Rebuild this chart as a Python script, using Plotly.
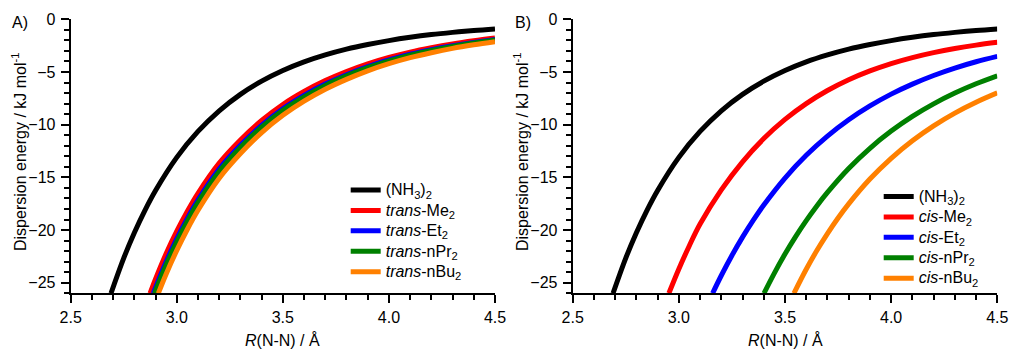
import plotly.graph_objects as go

# ---------------- data ----------------
# (NH3)2 reference curve, identical in both panels
R_nh3 = [2.69, 2.75, 2.80, 2.85, 2.90, 3.00, 3.10, 3.20, 3.30, 3.40, 3.50, 3.60, 3.70, 3.80, 3.90, 4.00, 4.10, 4.20, 4.30, 4.40, 4.50]
E_nh3 = [-26.0, -22.66, -20.25, -18.12, -16.24, -13.10, -10.64, -8.68, -7.12, -5.87, -4.86, -4.04, -3.38, -2.83, -2.39, -2.02, -1.71, -1.45, -1.24, -1.06, -0.91]

GRID = [3.1, 3.2, 3.3, 3.4, 3.5, 3.6, 3.7, 3.8, 3.9, 4.0, 4.1, 4.2, 4.3, 4.4, 4.5]

# panel A (trans)
R_trans_me = [2.874, 2.90, 2.95, 3.00, 3.05] + GRID
E_trans_me = [-26.0, -24.63, -22.23, -20.11, -18.21, -16.51, -13.65, -11.45, -9.60, -8.08, -6.85, -5.82, -4.96, -4.23, -3.62, -3.11, -2.69, -2.33, -2.03, -1.77]
R_trans_et = [2.889, 2.95, 3.00, 3.05] + GRID
E_trans_et = [-26.0, -23.00, -20.84, -18.89, -17.16, -14.22, -11.96, -10.06, -8.49, -7.22, -6.15, -5.26, -4.49, -3.86, -3.32, -2.88, -2.50, -2.19, -1.91]
R_trans_pr = [2.895, 2.95, 3.00, 3.05] + GRID
E_trans_pr = [-26.0, -23.29, -21.11, -19.15, -17.40, -14.44, -12.16, -10.23, -8.64, -7.36, -6.27, -5.37, -4.59, -3.95, -3.40, -2.95, -2.57, -2.25, -1.96]
R_trans_bu = [2.913, 2.95, 3.00, 3.05] + GRID
E_trans_bu = [-26.0, -24.16, -21.93, -19.92, -18.12, -15.08, -12.74, -10.75, -9.11, -7.77, -6.64, -5.70, -4.89, -4.21, -3.64, -3.17, -2.76, -2.42, -2.12]

# panel B (cis)
R_cis_me = [2.953, 3.00, 3.05] + GRID
E_cis_me = [-26.0, -23.69, -21.46, -19.43, -16.19, -13.52, -11.32, -9.50, -8.00, -6.76, -5.74, -4.90, -4.20, -3.63, -3.16, -2.77, -2.45, -2.18]
R_cis_et = [3.159, 3.20, 3.25, 3.30, 3.35, 3.40, 3.50, 3.60, 3.70, 3.80, 3.90, 4.00, 4.10, 4.20, 4.30, 4.40, 4.50]
E_cis_et = [-26.0, -24.31, -22.41, -20.67, -19.08, -17.62, -15.06, -12.90, -11.08, -9.53, -8.22, -7.10, -6.15, -5.33, -4.63, -4.03, -3.52]
R_cis_pr = [3.401, 3.45, 3.50, 3.55, 3.60, 3.65, 3.70, 3.80, 3.90, 4.00, 4.10, 4.20, 4.30, 4.40, 4.50]
E_cis_pr = [-26.0, -24.08, -22.27, -20.62, -19.10, -17.71, -16.43, -14.16, -12.24, -10.61, -9.21, -8.02, -7.00, -6.12, -5.36]
R_cis_bu = [3.542, 3.60, 3.65, 3.70, 3.75, 3.80, 3.90, 4.00, 4.10, 4.20, 4.30, 4.40, 4.50]
E_cis_bu = [-26.0, -23.72, -21.94, -20.33, -18.85, -17.51, -15.16, -13.19, -11.52, -10.11, -8.90, -7.87, -6.98]

names_A = ["(NH<sub>3</sub>)<sub>2</sub>", "<i>trans</i>-Me<sub>2</sub>", "<i>trans</i>-Et<sub>2</sub>",
           "<i>trans</i>-nPr<sub>2</sub>", "<i>trans</i>-nBu<sub>2</sub>"]
names_B = ["(NH<sub>3</sub>)<sub>2</sub>", "<i>cis</i>-Me<sub>2</sub>", "<i>cis</i>-Et<sub>2</sub>",
           "<i>cis</i>-nPr<sub>2</sub>", "<i>cis</i>-nBu<sub>2</sub>"]
colors = ["#000000", "#ff0000", "#0000ff", "#008000", "#ff8000"]

x_ticks = [2.5, 3.0, 3.5, 4.0, 4.5]
y_ticks = [0, -5, -10, -15, -20, -25]

FONT = "Liberation Sans, Arial, Helvetica, sans-serif"
W, H = 1010, 349

series_A = [(R_nh3, E_nh3), (R_trans_me, E_trans_me), (R_trans_et, E_trans_et),
            (R_trans_pr, E_trans_pr), (R_trans_bu, E_trans_bu)]
series_B = [(R_nh3, E_nh3), (R_cis_me, E_cis_me), (R_cis_et, E_cis_et),
            (R_cis_pr, E_cis_pr), (R_cis_bu, E_cis_bu)]


def big(t):
    return '<span style="font-size:16px">' + t + '</span>'


fig = go.Figure()
for (rx, ey), nm, c in zip(series_A, names_A, colors):
    fig.add_trace(go.Scatter(x=rx, y=ey, name=big(nm), mode="lines",
                             line=dict(color=c, width=5, shape="spline", smoothing=1.0),
                             xaxis="x", yaxis="y", legend="legend"))
for (rx, ey), nm, c in zip(series_B, names_B, colors):
    fig.add_trace(go.Scatter(x=rx, y=ey, name=big(nm), mode="lines",
                             line=dict(color=c, width=5, shape="spline", smoothing=1.0),
                             xaxis="x2", yaxis="y2", legend="legend2"))


def px_x(p):
    return p / W


def px_y(p):
    return 1 - p / H


xax = dict(range=[2.5, 4.5], tickvals=x_ticks, tickformat=".1f", ticks="outside",
           ticklen=8, tickwidth=2, tickcolor="black", showline=True, linewidth=2,
           linecolor="black", showgrid=False, zeroline=False,
           minor=dict(dtick=0.1, tick0=2.5, ticks="outside", ticklen=5, tickwidth=2,
                      tickcolor="black", showgrid=False),
           tickfont=dict(size=16, color="black", family=FONT), ticklabelstandoff=0)
yax = dict(range=[-26, 0], tickvals=y_ticks, ticks="outside",
           ticklen=8, tickwidth=2, tickcolor="black", showline=True, linewidth=2,
           linecolor="black", showgrid=False, zeroline=False,
           minor=dict(dtick=1, tick0=0, ticks="outside", ticklen=5, tickwidth=2,
                      tickcolor="black", showgrid=False),
           tickfont=dict(size=16, color="black", family=FONT), ticklabelstandoff=2)

ydom = [px_y(293.3), px_y(19.3)]
legend_common = dict(xanchor="left", yanchor="top", bgcolor="rgba(0,0,0,0)", borderwidth=0,
                     font=dict(size=13.4, family=FONT, color="black"), itemwidth=30)
fig.update_layout(
    width=W, height=H,
    margin=dict(l=0, r=0, t=0, b=0, autoexpand=False),
    paper_bgcolor="white", plot_bgcolor="white",
    font=dict(family=FONT, color="black", size=16),
    xaxis=dict(domain=[px_x(70.7), px_x(495)], anchor="y", **xax),
    yaxis=dict(domain=ydom, anchor="x", **yax),
    xaxis2=dict(domain=[px_x(572.7), px_x(997.3)], anchor="y2", **xax),
    yaxis2=dict(domain=ydom, anchor="x2", **yax),
    legend=dict(x=px_x(345.7), y=px_y(174.8), **legend_common),
    legend2=dict(x=px_x(878.7), y=px_y(181.3), **legend_common),
    showlegend=True,
)

ann = []
ann.append(dict(text="A)", x=px_x(20), y=px_y(23), xref="paper", yref="paper",
                showarrow=False, font=dict(size=16), xanchor="center", yanchor="middle"))
ann.append(dict(text="B)", x=px_x(522.5), y=px_y(23), xref="paper", yref="paper",
                showarrow=False, font=dict(size=16), xanchor="center", yanchor="middle"))
for xc in (19, 521):
    ann.append(dict(text="Dispersion energy / kJ mol<sup>-1</sup>", x=px_x(xc), y=px_y(152),
                    xref="paper", yref="paper", showarrow=False, textangle=-90,
                    font=dict(size=16), xanchor="center", yanchor="middle"))
for xc in (282.9, 785):
    ann.append(dict(text="<i>R</i>(N-N) / Å", x=px_x(xc), y=px_y(340),
                    xref="paper", yref="paper", showarrow=False,
                    font=dict(size=16), xanchor="center", yanchor="middle"))
fig.update_layout(annotations=ann)

fig.write_html("out.html")
